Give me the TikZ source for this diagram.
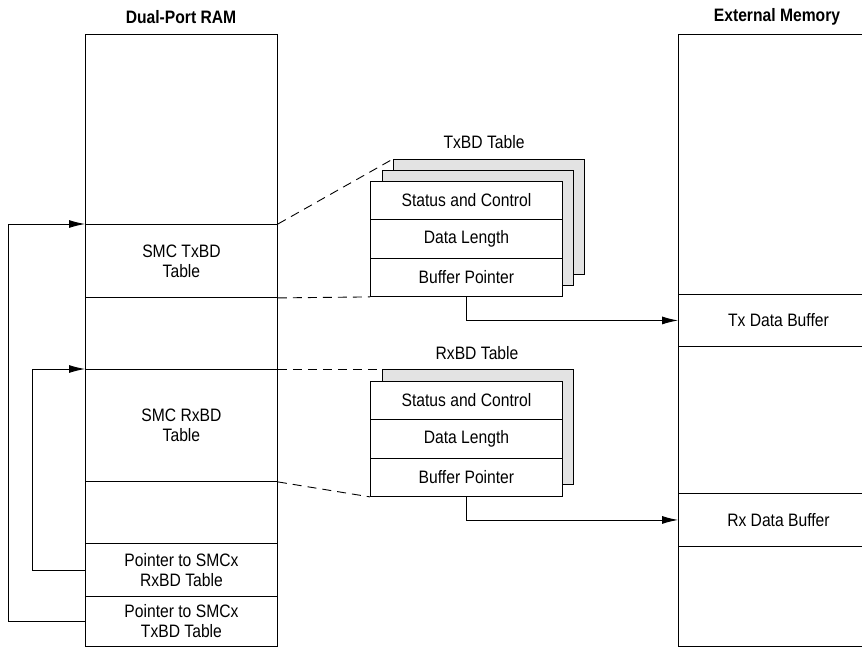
\documentclass[tikz,border=0pt]{standalone}
\usepackage{fontspec}
\setmainfont{Liberation Sans}[FakeStretch=0.87]
\usetikzlibrary{arrows.meta}
\begin{document}
\begin{tikzpicture}[x=1pt,y=-1pt,
  txt/.style={font=\fontsize{18}{20}\selectfont, align=center},
  ttl/.style={font=\bfseries\fontsize{18}{20}\selectfont},
  cell/.style={draw, line width=0.9pt, inner sep=0pt, minimum width=192pt, anchor=north west, txt},
  ecell/.style={draw, line width=0.9pt, inner sep=0pt, minimum width=200pt, anchor=north west, txt},
  frame/.style={draw, line width=1.4pt, inner sep=0pt, anchor=north west},
  backbox/.style={draw, line width=1.2pt, fill=gray!22, inner sep=0pt, minimum width=191pt, minimum height=115pt, anchor=north west},
  arr/.style={line width=0.9pt, -{Latex[length=16pt,width=8pt]}},
  dashln/.style={line width=0.9pt, dash pattern=on 9pt off 6pt}
]
\useasboundingbox (0,0) rectangle (862,648);

% titles
\node[ttl] (ramtitle) at (181,17) {Dual-Port RAM};
\node[ttl] (exttitle) at (777,17) {External Memory};

% Dual-port RAM cells
\node[cell, minimum height=190pt] (ramtop) at (85,34) {};
\node[cell, minimum height=73pt] (ramtx) at (85,224) {SMC TxBD\\Table};
\node[cell, minimum height=72pt] (ramgap1) at (85,297) {};
\node[cell, minimum height=112pt] (ramrx) at (85,369) {SMC RxBD\\Table};
\node[cell, minimum height=62pt] (ramgap2) at (85,481) {};
\node[cell, minimum height=53pt] (ptrrx) at (85,543) {Pointer to SMCx\\RxBD Table};
\node[cell, minimum height=50pt] (ptrtx) at (85,596) {Pointer to SMCx\\TxBD Table};
\node[frame, minimum width=192pt, minimum height=612pt] (ram) at (85,34) {};

% External memory
\node[ecell, minimum height=260pt] (exttop) at (678,34) {};
\node[ecell, minimum height=52pt] (txbuf) at (678,294) {Tx Data Buffer};
\node[ecell, minimum height=147pt] (extmid) at (678,346) {};
\node[ecell, minimum height=53pt] (rxbuf) at (678,493) {Rx Data Buffer};
\node[ecell, minimum height=100pt] (extbot) at (678,546) {};
\node[frame, minimum width=200pt, minimum height=612pt] (ext) at (678,34) {};

% TxBD table
\node[txt] (txtitle) at (484,142) {TxBD Table};
\node[backbox] (txback2) at (393,159) {};
\node[backbox] (txback1) at (382,170) {};
\node[cell, fill=white, minimum height=38pt] (txsc) at (370,181) {Status and Control};
\node[cell, fill=white, minimum height=39pt] (txdl) at (370,219) {Data Length};
\node[cell, fill=white, minimum height=38pt] (txbp) at (370,258) {Buffer Pointer};
\node[frame, minimum width=192pt, minimum height=115pt] (txfront) at (370,181) {};

% RxBD table
\node[txt] (rxtitle) at (477,353) {RxBD Table};
\node[backbox] (rxback1) at (382,369) {};
\node[cell, fill=white, minimum height=38pt] (rxsc) at (370,381) {Status and Control};
\node[cell, fill=white, minimum height=39pt] (rxdl) at (370,419) {Data Length};
\node[cell, fill=white, minimum height=38pt] (rxbp) at (370,458) {Buffer Pointer};
\node[frame, minimum width=192pt, minimum height=115pt] (rxfront) at (370,381) {};

% dashed projection lines
\draw[dashln] (ramtx.north east) -- (txback2.north west);
\draw[dashln] (ramtx.south east) -- (txbp.south west);
\draw[dashln] (ramrx.north east) -- (rxback1.north west);
\draw[dashln] (ramrx.south east) -- (rxbp.south west);

% buffer pointer connectors
\draw[arr] (txbp.south) |- (txbuf.west);
\draw[arr] (rxbp.south) |- (rxbuf.west);

% pointer loops
\coordinate (loopTx) at (8,0);
\coordinate (loopRx) at (32,0);
\draw[arr] (ptrtx.west) -- (ptrtx.west -| loopTx) |- (ramtx.north west);
\draw[arr] (ptrrx.west) -- (ptrrx.west -| loopRx) |- (ramrx.north west);
\end{tikzpicture}
\end{document}
